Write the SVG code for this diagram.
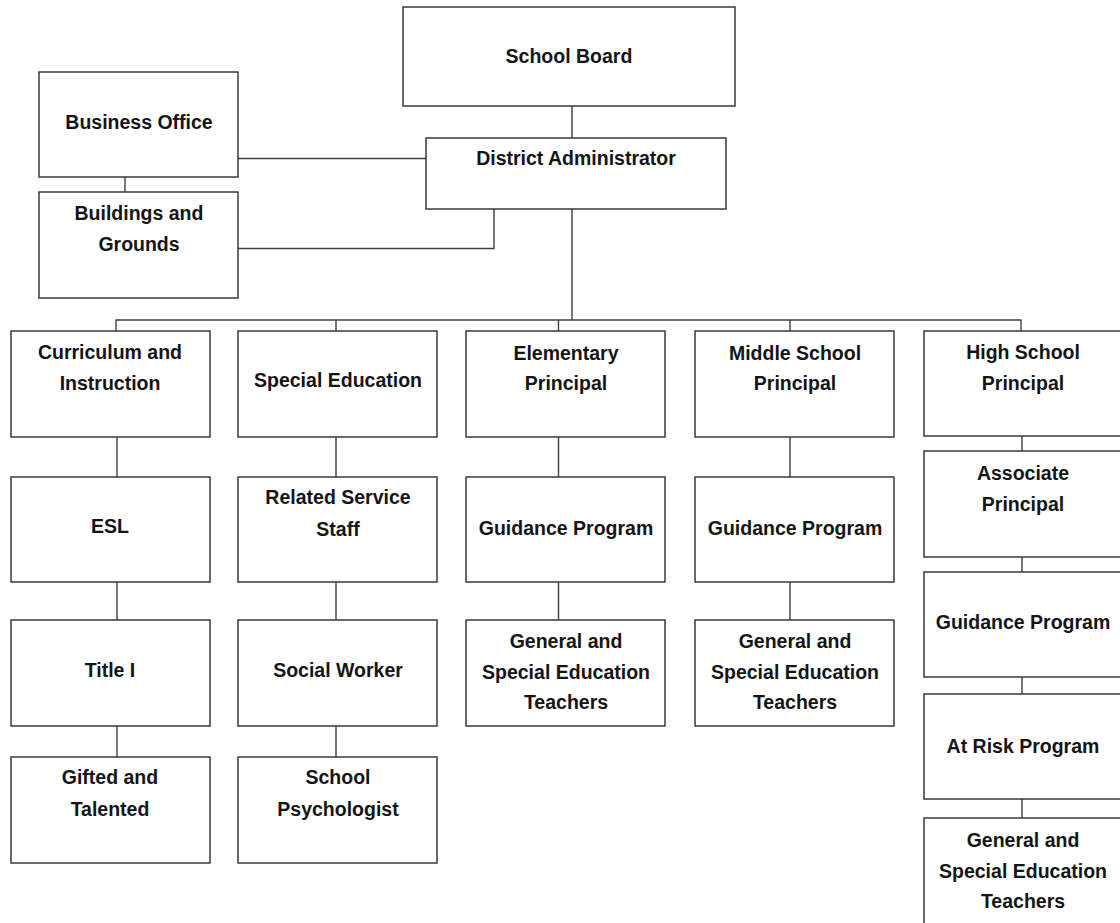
<svg xmlns="http://www.w3.org/2000/svg" width="1120" height="923" viewBox="0 0 1120 923">
<style>
.box{fill:#fff;stroke:#3a3a3a;stroke-width:1.5}
.ln{fill:none;stroke:#404040;stroke-width:1.4}
text{font-family:"Liberation Sans",Arial,sans-serif;font-weight:bold;font-size:19.5px;fill:#141414;text-anchor:middle}
</style>
<rect width="1120" height="923" fill="#fff"/>
<g id="connectors" class="ln">
<path d="M572 106V138"/>
<path d="M238 158.5H426"/>
<path d="M125 177V192"/>
<path d="M238 248.5H494V209"/>
<path d="M572 209V320"/>
<path d="M116 331V320H1021V331"/>
<path d="M336 320V331M558.5 320V331M790 320V331"/>
<path d="M117 437V477M117 582V620M117 726V757"/>
<path d="M336 437V477M336 582V620M336 726V757"/>
<path d="M558.5 437V477M558.5 582V620"/>
<path d="M790 437V477M790 582V620"/>
<path d="M1022 436V451M1022 557V572M1022 677V694M1022 799V818"/>
</g>
<g id="school-board"><rect class="box" x="403" y="7" width="332" height="99"/><text x="569" y="63">School Board</text></g>
<g id="district-administrator"><rect class="box" x="426" y="138" width="300" height="71"/><text x="576" y="165">District Administrator</text></g>
<g id="business-office"><rect class="box" x="39" y="72" width="199" height="105"/><text x="139" y="129">Business Office</text></g>
<g id="buildings-grounds"><rect class="box" x="39" y="192" width="199" height="106"/><text x="139" y="220">Buildings and</text><text x="139" y="251">Grounds</text></g>

<g id="curriculum"><rect class="box" x="11" y="331" width="199" height="106"/><text x="110" y="359">Curriculum and</text><text x="110" y="390">Instruction</text></g>
<g id="esl"><rect class="box" x="11" y="477" width="199" height="105"/><text x="110" y="533">ESL</text></g>
<g id="title-i"><rect class="box" x="11" y="620" width="199" height="106"/><text x="110" y="677">Title I</text></g>
<g id="gifted"><rect class="box" x="11" y="757" width="199" height="106"/><text x="110" y="784">Gifted and</text><text x="110" y="816">Talented</text></g>

<g id="special-education"><rect class="box" x="238" y="331" width="199" height="106"/><text x="338" y="387">Special Education</text></g>
<g id="related-service"><rect class="box" x="238" y="477" width="199" height="105"/><text x="338" y="504">Related Service</text><text x="338" y="536">Staff</text></g>
<g id="social-worker"><rect class="box" x="238" y="620" width="199" height="106"/><text x="338" y="677">Social Worker</text></g>
<g id="school-psychologist"><rect class="box" x="238" y="757" width="199" height="106"/><text x="338" y="784">School</text><text x="338" y="816">Psychologist</text></g>

<g id="elementary-principal"><rect class="box" x="466" y="331" width="199" height="106"/><text x="566" y="360">Elementary</text><text x="566" y="390">Principal</text></g>
<g id="elementary-guidance"><rect class="box" x="466" y="477" width="199" height="105"/><text x="566" y="535">Guidance Program</text></g>
<g id="elementary-teachers"><rect class="box" x="466" y="620" width="199" height="106"/><text x="566" y="648">General and</text><text x="566" y="679">Special Education</text><text x="566" y="709">Teachers</text></g>

<g id="middle-principal"><rect class="box" x="695" y="331" width="199" height="106"/><text x="795" y="360">Middle School</text><text x="795" y="390">Principal</text></g>
<g id="middle-guidance"><rect class="box" x="695" y="477" width="199" height="105"/><text x="795" y="535">Guidance Program</text></g>
<g id="middle-teachers"><rect class="box" x="695" y="620" width="199" height="106"/><text x="795" y="648">General and</text><text x="795" y="679">Special Education</text><text x="795" y="709">Teachers</text></g>

<g id="high-principal"><rect class="box" x="924" y="331" width="199" height="105"/><text x="1023" y="359">High School</text><text x="1023" y="390">Principal</text></g>
<g id="associate-principal"><rect class="box" x="924" y="451" width="199" height="106"/><text x="1023" y="480">Associate</text><text x="1023" y="511">Principal</text></g>
<g id="high-guidance"><rect class="box" x="924" y="572" width="199" height="105"/><text x="1023" y="629">Guidance Program</text></g>
<g id="at-risk"><rect class="box" x="924" y="694" width="199" height="105"/><text x="1023" y="753">At Risk Program</text></g>
<g id="high-teachers"><rect class="box" x="924" y="818" width="199" height="110"/><text x="1023" y="847">General and</text><text x="1023" y="878">Special Education</text><text x="1023" y="908">Teachers</text></g>
</svg>
